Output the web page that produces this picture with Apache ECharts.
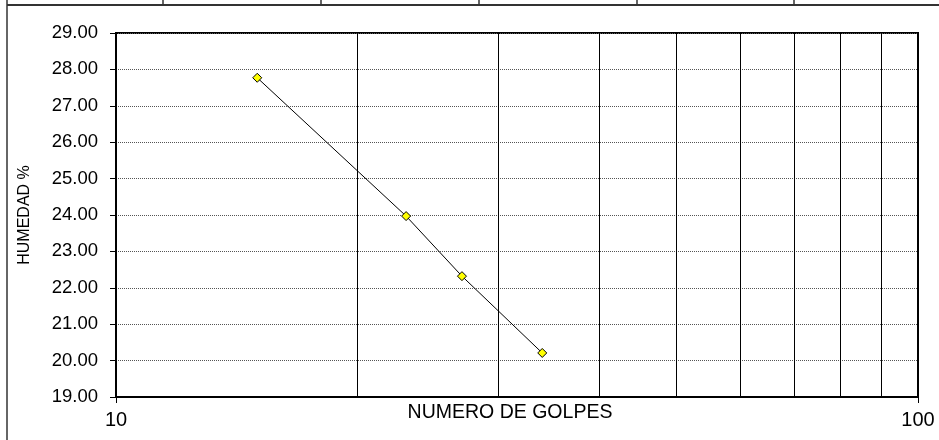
<!DOCTYPE html>
<html>
<head>
<meta charset="utf-8">
<script src="https://cdn.jsdelivr.net/npm/echarts@6/dist/echarts.min.js"></script>
<style>html,body{margin:0;padding:0;background:#fff;}#c{width:939px;height:440px;}</style>
</head>
<body>
<div id="c"></div>
<script>
const golpes = [15, 23, 27, 34];
const humedad = [27.77, 23.97, 22.32, 20.21];
const minorX = [20, 30, 40, 50, 60, 70, 80, 90];
const yMin = 19, yMax = 29, yStep = 1;
const xMin = 10, xMax = 100;
const xTitle = 'NUMERO DE GOLPES';
const yTitle = 'HUMEDAD %';

const chart = echarts.init(document.getElementById('c'), null, {renderer: 'canvas'});
const font = 'Arial, "Liberation Sans", sans-serif';
const tableXs = [163, 321, 479, 637, 794];
const graphics = [
  {type: 'line', shape: {x1: 7, y1: 5, x2: 939, y2: 5}, style: {stroke: '#333', lineWidth: 2}},
  {type: 'line', shape: {x1: 7, y1: 0, x2: 7, y2: 440}, style: {stroke: '#333', lineWidth: 1.5}}
];
tableXs.forEach(x => graphics.push({type: 'line', shape: {x1: x, y1: 0, x2: x, y2: 5}, style: {stroke: '#333', lineWidth: 1.5}}));

chart.setOption({
  animation: false,
  backgroundColor: '#fff',
  grid: {left: 116, right: 21, top: 33, bottom: 43, show: true, borderColor: '#000', borderWidth: 2,
         backgroundColor: 'transparent', containLabel: false, outerBoundsMode: 'none'},
  graphic: graphics,
  xAxis: {
    type: 'log', logBase: 10, min: xMin, max: xMax,
    name: xTitle, nameLocation: 'middle', nameGap: 6, nameMoveOverlap: false,
    nameTextStyle: {fontFamily: font, fontSize: 19.5, color: '#000', padding: [0, 14, 0, 0]},
    axisLine: {show: true, lineStyle: {color: '#000', width: 2}},
    axisTick: {show: true, length: 6, lineStyle: {color: '#000'}},
    axisLabel: {fontFamily: font, fontSize: 20, color: '#000', margin: 13},
    splitLine: {show: false}
  },
  yAxis: {
    type: 'value', min: yMin, max: yMax, interval: yStep,
    name: yTitle, nameLocation: 'middle', nameGap: 83, nameRotate: 90, nameMoveOverlap: false,
    nameTextStyle: {fontFamily: font, fontSize: 16, color: '#000'},
    axisLine: {show: true, lineStyle: {color: '#000', width: 2}},
    axisTick: {show: true, length: 6, lineStyle: {color: '#000'}},
    axisLabel: {fontFamily: font, fontSize: 18.5, color: '#000', margin: 18, formatter: v => v.toFixed(2)},
    splitLine: {show: true, lineStyle: {color: '#555', type: 'dotted', width: 1}}
  },
  series: [{
    type: 'line',
    data: golpes.map((g, i) => [g, humedad[i]]),
    symbol: 'diamond', symbolSize: 9,
    itemStyle: {color: '#ffff00', borderColor: '#000', borderWidth: 1},
    lineStyle: {color: '#000', width: 1},
    z: 5,
    markLine: {
      silent: true, symbol: 'none', label: {show: false},
      lineStyle: {color: '#000', type: 'solid', width: 1},
      data: minorX.map(v => ({xAxis: v}))
    }
  }]
});
</script>
</body>
</html>
